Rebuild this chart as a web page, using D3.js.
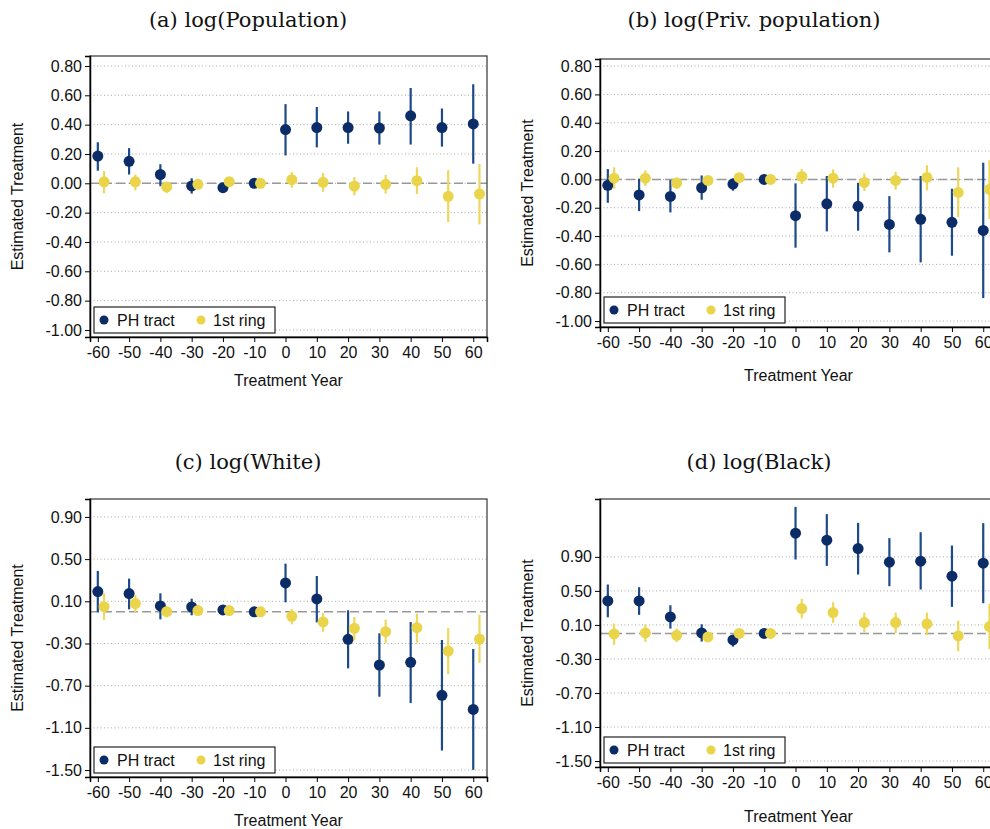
<!DOCTYPE html>
<html>
<head>
<meta charset="utf-8">
<script src="https://cdn.jsdelivr.net/npm/d3@7"></script>
<style>
  html, body { margin: 0; padding: 0; background: #fff; }
  svg { display: block; }
  .tick text { font-family: "Liberation Sans", Arial, sans-serif; font-size: 16px; fill: #111; }
</style>
</head>
<body>
<svg id="chart" width="990" height="829"></svg>
<script>
// ---------- data ----------
const years = [-60, -50, -40, -30, -20, -10, 0, 10, 20, 30, 40, 50, 60];
const seriesNames = ["PH tract", "1st ring"];
const panelTitles = ["(a) log(Population)", "(b) log(Priv. population)", "(c) log(White)", "(d) log(Black)"];
const yTicksAB = [0.80, 0.60, 0.40, 0.20, 0.00, -0.20, -0.40, -0.60, -0.80, -1.00];
const yTicksCD = [0.90, 0.50, 0.10, -0.30, -0.70, -1.10, -1.50];

// (a) log(Population)
const phA    = [0.186, 0.150, 0.060, -0.018, -0.030, 0, 0.366, 0.380, 0.380, 0.377, 0.460, 0.380, 0.405];
const phA_hi = [0.280, 0.240, 0.130, 0.034, -0.010, 0, 0.540, 0.520, 0.490, 0.490, 0.650, 0.510, 0.675];
const phA_lo = [0.086, 0.060, -0.020, -0.070, -0.050, 0, 0.190, 0.245, 0.270, 0.264, 0.264, 0.250, 0.134];
const rgA    = [0.010, 0.010, -0.025, -0.007, 0.011, 0, 0.025, 0.007, -0.020, -0.007, 0.018, -0.089, -0.073];
const rgA_hi = [0.084, 0.060, 0.007, 0.007, 0.025, 0, 0.077, 0.070, 0.043, 0.057, 0.109, 0.090, 0.132];
const rgA_lo = [-0.068, -0.048, -0.068, -0.022, -0.003, 0, -0.030, -0.057, -0.082, -0.070, -0.073, -0.264, -0.280];

// (b) log(Priv. population)
const phB    = [-0.042, -0.110, -0.120, -0.059, -0.033, 0, -0.256, -0.172, -0.190, -0.318, -0.282, -0.303, -0.360];
const phB_hi = [0.073, 0.005, -0.005, 0.028, 0.007, 0, -0.028, 0.024, -0.024, -0.118, 0.024, -0.066, 0.118];
const phB_lo = [-0.165, -0.224, -0.233, -0.144, -0.080, 0, -0.482, -0.367, -0.362, -0.515, -0.586, -0.539, -0.838];
const rgB    = [0.009, 0.009, -0.026, -0.007, 0.012, 0, 0.021, 0.009, -0.021, -0.007, 0.014, -0.092, -0.070];
const rgB_hi = [0.085, 0.064, 0.012, 0.009, 0.024, 0, 0.073, 0.071, 0.042, 0.054, 0.100, 0.085, 0.136];
const rgB_lo = [-0.066, -0.047, -0.066, -0.024, 0.000, 0, -0.033, -0.059, -0.082, -0.073, -0.078, -0.266, -0.280];

// (c) log(White)
const phC    = [0.192, 0.173, 0.056, 0.046, 0.018, 0, 0.274, 0.122, -0.261, -0.504, -0.479, -0.792, -0.925];
const phC_hi = [0.388, 0.315, 0.176, 0.125, 0.040, 0, 0.457, 0.340, 0.015, -0.204, -0.096, -0.267, -0.352];
const phC_lo = [-0.004, 0.024, -0.071, -0.033, -0.005, 0, 0.090, -0.100, -0.536, -0.805, -0.865, -1.315, -1.498];
const rgC    = [0.049, 0.078, 0.002, 0.012, 0.012, 0, -0.042, -0.096, -0.156, -0.188, -0.150, -0.372, -0.258];
const rgC_hi = [0.176, 0.160, 0.052, 0.034, 0.028, 0, 0.027, -0.011, -0.049, -0.074, -0.017, -0.153, -0.027];
const rgC_lo = [-0.077, -0.004, -0.052, -0.010, -0.004, 0, -0.118, -0.188, -0.270, -0.296, -0.292, -0.590, -0.485];

// (d) log(Black)
const phD    = [0.382, 0.382, 0.194, 0.006, -0.076, 0, 1.178, 1.096, 0.998, 0.837, 0.849, 0.673, 0.825];
const phD_hi = [0.575, 0.543, 0.331, 0.108, -0.022, 0, 1.488, 1.402, 1.300, 1.120, 1.190, 1.033, 1.296];
const phD_lo = [0.190, 0.218, 0.057, -0.096, -0.155, 0, 0.869, 0.794, 0.692, 0.555, 0.516, 0.312, 0.355];
const rgD    = [-0.006, 0.006, -0.022, -0.041, 0.000, 0, 0.292, 0.245, 0.127, 0.127, 0.112, -0.029, 0.080];
const rgD_hi = [0.116, 0.104, 0.057, -0.010, 0.015, 0, 0.406, 0.367, 0.245, 0.245, 0.245, 0.151, 0.347];
const rgD_lo = [-0.135, -0.100, -0.100, -0.075, -0.015, 0, 0.178, 0.124, 0.014, 0.002, -0.018, -0.210, -0.186];

// ---------- layout / style ----------
const NAVY = "#0b2c66", NAVY_LINE = "#1d4a8a";
const GOLD = "#ead44a", GOLD_LINE = "#eed75c";
const ringOffset = 2;

const panels = [
  { title: panelTitles[0], titleX: 248, titleY: 27, left: 90,  top: 56,  bottom: 337, yDomain: [-1.048, 0.868], ticks: yTicksAB, ph: [phA, phA_lo, phA_hi], rg: [rgA, rgA_lo, rgA_hi], xTitleGap: 49, yTitleX: 17 },
  { title: panelTitles[1], titleX: 754, titleY: 27, left: 600, top: 59,  bottom: 327, yDomain: [-1.042, 0.850], ticks: yTicksAB, ph: [phB, phB_lo, phB_hi], rg: [rgB, rgB_lo, rgB_hi], xTitleGap: 54, yTitleX: 527 },
  { title: panelTitles[2], titleX: 248, titleY: 469, left: 90,  top: 499, bottom: 777, yDomain: [-1.566, 1.070], ticks: yTicksCD, ph: [phC, phC_lo, phC_hi], rg: [rgC, rgC_lo, rgC_hi], xTitleGap: 49, yTitleX: 17 },
  { title: panelTitles[3], titleX: 759, titleY: 469, left: 600, top: 499, bottom: 767, yDomain: [-1.570, 1.580], ticks: yTicksCD, ph: [phD, phD_lo, phD_hi], rg: [rgD, rgD_lo, rgD_hi], xTitleGap: 55, yTitleX: 527 }
];
const plotW = 397;

const svg = d3.select("#chart");

panels.forEach(p => {
  const h = p.bottom - p.top;
  const x = d3.scaleLinear().domain([-62.5, 64.4]).range([0, plotW]);
  const y = d3.scaleLinear().domain(p.yDomain).range([h, 0]);

  // title
  svg.append("text")
    .attr("x", p.titleX).attr("y", p.titleY)
    .attr("text-anchor", "middle")
    .style("font-family", "'DejaVu Serif', serif")
    .style("font-size", "21px")
    .style("fill", "#111")
    .text(p.title);

  const g = svg.append("g").attr("transform", `translate(${p.left},${p.top})`);

  // gridlines
  g.append("g").selectAll("line").data(p.ticks).join("line")
    .attr("x1", 0).attr("x2", plotW)
    .attr("y1", d => y(d)).attr("y2", d => y(d))
    .attr("stroke", "#aaa").attr("stroke-width", 1)
    .attr("stroke-dasharray", "1,2.5");

  // zero reference line
  g.append("line")
    .attr("x1", 0).attr("x2", plotW)
    .attr("y1", y(0)).attr("y2", y(0))
    .attr("stroke", "#999").attr("stroke-width", 1.5)
    .attr("stroke-dasharray", "9,4");

  // frame
  g.append("rect").attr("x", 0).attr("y", 0).attr("width", plotW).attr("height", h)
    .attr("fill", "none").attr("stroke", "#444").attr("stroke-width", 1.3);

  // axes
  const yAxis = d3.axisLeft(y).tickValues(p.ticks).tickFormat(d => d3.format(".2f")(d).replace("\u2212", "-")).tickSize(5).tickPadding(3);
  const gy = g.append("g").call(yAxis);
  gy.select(".domain").attr("stroke", "#000").attr("stroke-width", 1.5);
  gy.selectAll(".tick line").attr("stroke", "#000");

  const xAxis = d3.axisBottom(x).tickValues(years).tickFormat(d => String(d)).tickSize(5).tickPadding(2);
  const gx = g.append("g").attr("transform", `translate(0,${h})`).call(xAxis);
  gx.select(".domain").attr("stroke", "#000").attr("stroke-width", 1.5);
  gx.selectAll(".tick line").attr("stroke", "#000");
  gx.selectAll(".tick text").attr("dy", "0.9em");

  // axis titles
  g.append("text")
    .attr("x", plotW / 2).attr("y", h + p.xTitleGap)
    .attr("text-anchor", "middle")
    .style("font-family", "'Liberation Sans', Arial, sans-serif")
    .style("font-size", "16px").style("fill", "#111")
    .text("Treatment Year");
  svg.append("text")
    .attr("transform", `translate(${p.yTitleX + 6},${p.top + h / 2}) rotate(-90)`)
    .attr("text-anchor", "middle")
    .style("font-family", "'Liberation Sans', Arial, sans-serif")
    .style("font-size", "16px").style("fill", "#111")
    .text("Estimated Treatment");

  // series: PH tract first, then 1st ring on top
  const series = [
    { vals: p.ph, off: 0, dot: NAVY, line: NAVY_LINE },
    { vals: p.rg, off: ringOffset, dot: GOLD, line: GOLD_LINE }
  ];
  series.forEach(s => {
    const rows = years.map((yr, i) => ({ yr: yr + s.off, est: s.vals[0][i], lo: s.vals[1][i], hi: s.vals[2][i] }));
    const sg = g.append("g");
    sg.selectAll("line").data(rows.filter(r => r.hi !== r.lo)).join("line")
      .attr("x1", d => x(d.yr)).attr("x2", d => x(d.yr))
      .attr("y1", d => y(d.lo)).attr("y2", d => y(d.hi))
      .attr("stroke", s.line).attr("stroke-width", 2.2);
    sg.selectAll("circle").data(rows).join("circle")
      .attr("cx", d => x(d.yr)).attr("cy", d => y(d.est))
      .attr("r", 5.5).attr("fill", s.dot);
  });

  // legend
  const lg = g.append("g").attr("transform", `translate(4,${h - 30})`);
  lg.append("rect").attr("width", 181).attr("height", 26)
    .attr("fill", "#fff").attr("stroke", "#222").attr("stroke-width", 1.2);
  const legendItems = [
    { name: seriesNames[0], color: NAVY, cx: 10, tx: 23 },
    { name: seriesNames[1], color: GOLD, cx: 107, tx: 119 }
  ];
  legendItems.forEach(it => {
    lg.append("circle").attr("cx", it.cx).attr("cy", 13).attr("r", 4.5).attr("fill", it.color);
    lg.append("text").attr("x", it.tx).attr("y", 19)
      .style("font-family", "'Liberation Sans', Arial, sans-serif")
      .style("font-size", "16px").style("fill", "#111")
      .text(it.name);
  });
});
</script>
</body>
</html>
